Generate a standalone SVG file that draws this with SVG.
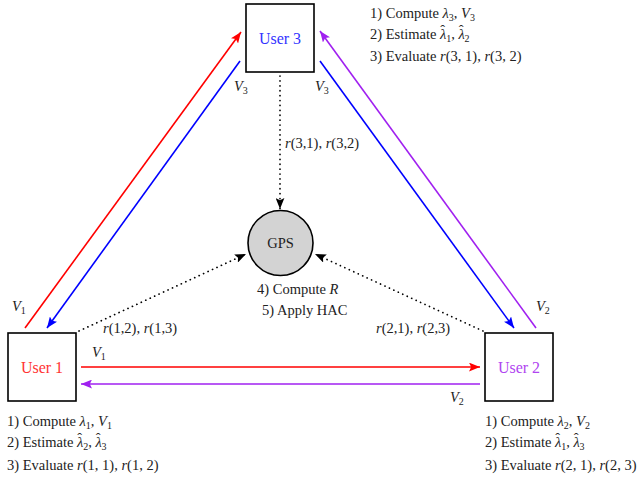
<svg xmlns="http://www.w3.org/2000/svg" width="642" height="481" viewBox="0 0 642 481">
<defs>
<style>
text{font-family:Liberation Serif,Times New Roman,DejaVu Serif,serif;fill:#222;font-size:14.5px}
.it{font-style:italic}
.sub{font-size:10px;font-style:normal}
.hat{font-style:normal}
.box{fill:#fff;stroke:#000;stroke-width:1.6}
.lbl{font-size:16px;text-anchor:middle}
.ln{fill:none;stroke-width:1.6}
.dot{fill:none;stroke:#000;stroke-width:1.7;stroke-dasharray:0.1 4.8;stroke-linecap:round}
</style>
<marker id="aR" viewBox="0 0 10 8" refX="10" refY="4" markerWidth="11" markerHeight="9" markerUnits="userSpaceOnUse" orient="auto"><path d="M0,0 L10,4 L0,8 L2,4 Z" fill="#ff0000"/></marker>
<marker id="aB" viewBox="0 0 10 8" refX="10" refY="4" markerWidth="11" markerHeight="9" markerUnits="userSpaceOnUse" orient="auto"><path d="M0,0 L10,4 L0,8 L2,4 Z" fill="#0000ff"/></marker>
<marker id="aP" viewBox="0 0 10 8" refX="10" refY="4" markerWidth="11" markerHeight="9" markerUnits="userSpaceOnUse" orient="auto"><path d="M0,0 L10,4 L0,8 L2,4 Z" fill="#a020f0"/></marker>
<marker id="aK" viewBox="0 0 10 8" refX="10" refY="4" markerWidth="11" markerHeight="9" markerUnits="userSpaceOnUse" orient="auto"><path d="M0,0 L10,4 L0,8 L2,4 Z" fill="#000"/></marker>
</defs>
<g id="connectors">
<line class="ln" x1="25" y1="328" x2="241" y2="32" stroke="#ff0000" marker-end="url(#aR)"/>
<line class="ln" x1="240" y1="61" x2="47" y2="328" stroke="#0000ff" marker-end="url(#aB)"/>
<line class="ln" x1="320" y1="61" x2="514" y2="328" stroke="#0000ff" marker-end="url(#aB)"/>
<line class="ln" x1="536" y1="328" x2="320" y2="31" stroke="#a020f0" marker-end="url(#aP)"/>
<line class="ln" x1="81" y1="367" x2="480" y2="367" stroke="#ff0000" marker-end="url(#aR)"/>
<line class="ln" x1="480" y1="384" x2="81" y2="384" stroke="#a020f0" marker-end="url(#aP)"/>
<line class="dot" x1="280" y1="76" x2="280" y2="209" marker-end="url(#aK)"/>
<line class="dot" x1="79" y1="331" x2="246" y2="254" marker-end="url(#aK)"/>
<line class="dot" x1="483" y1="331" x2="315" y2="254" marker-end="url(#aK)"/>
<text x="234" y="91"><tspan class="it">V</tspan><tspan class="sub" dy="3">3</tspan></text>
<text x="315" y="91"><tspan class="it">V</tspan><tspan class="sub" dy="3">3</tspan></text>
<text x="12" y="311"><tspan class="it">V</tspan><tspan class="sub" dy="3">1</tspan></text>
<text x="92" y="357"><tspan class="it">V</tspan><tspan class="sub" dy="3">1</tspan></text>
<text x="536" y="311"><tspan class="it">V</tspan><tspan class="sub" dy="3">2</tspan></text>
<text x="450" y="402"><tspan class="it">V</tspan><tspan class="sub" dy="3">2</tspan></text>
<text x="285" y="148"><tspan class="it">r</tspan>(3,1), <tspan class="it">r</tspan>(3,2)</text>
<text x="103" y="333"><tspan class="it">r</tspan>(1,2), <tspan class="it">r</tspan>(1,3)</text>
<text x="376" y="333"><tspan class="it">r</tspan>(2,1), <tspan class="it">r</tspan>(2,3)</text>
</g>
<g id="user3">
<rect class="box" x="246" y="4" width="68" height="68"/>
<text class="lbl" x="280" y="44" style="fill:#3333ff">User 3</text>
<text x="370" y="18">1) Compute <tspan class="it">λ</tspan><tspan class="sub" dy="3">3</tspan><tspan dy="-3">, </tspan><tspan class="it">V</tspan><tspan class="sub" dy="3">3</tspan></text>
<text x="370" y="39">2) Estimate <tspan class="it">λ</tspan><tspan class="hat" dx="-6" dy="-3.7">ˆ</tspan><tspan class="sub" dx="1" dy="6.7">1</tspan><tspan dy="-3">, </tspan><tspan class="it">λ</tspan><tspan class="hat" dx="-6" dy="-3.7">ˆ</tspan><tspan class="sub" dx="1" dy="6.7">2</tspan></text>
<text x="370" y="61">3) Evaluate <tspan class="it">r</tspan>(3, 1), <tspan class="it">r</tspan>(3, 2)</text>
</g>
<g id="user1">
<rect class="box" x="8" y="333" width="68" height="68"/>
<text class="lbl" x="42" y="373" style="fill:#ff3333">User 1</text>
<text x="7" y="426">1) Compute <tspan class="it">λ</tspan><tspan class="sub" dy="3">1</tspan><tspan dy="-3">, </tspan><tspan class="it">V</tspan><tspan class="sub" dy="3">1</tspan></text>
<text x="7" y="447">2) Estimate <tspan class="it">λ</tspan><tspan class="hat" dx="-6" dy="-3.7">ˆ</tspan><tspan class="sub" dx="1" dy="6.7">2</tspan><tspan dy="-3">, </tspan><tspan class="it">λ</tspan><tspan class="hat" dx="-6" dy="-3.7">ˆ</tspan><tspan class="sub" dx="1" dy="6.7">3</tspan></text>
<text x="7" y="470">3) Evaluate <tspan class="it">r</tspan>(1, 1), <tspan class="it">r</tspan>(1, 2)</text>
</g>
<g id="user2">
<rect class="box" x="485" y="333" width="68" height="68"/>
<text class="lbl" x="519" y="373" style="fill:#b044f0">User 2</text>
<text x="485" y="426">1) Compute <tspan class="it">λ</tspan><tspan class="sub" dy="3">2</tspan><tspan dy="-3">, </tspan><tspan class="it">V</tspan><tspan class="sub" dy="3">2</tspan></text>
<text x="485" y="447">2) Estimate <tspan class="it">λ</tspan><tspan class="hat" dx="-6" dy="-3.7">ˆ</tspan><tspan class="sub" dx="1" dy="6.7">1</tspan><tspan dy="-3">, </tspan><tspan class="it">λ</tspan><tspan class="hat" dx="-6" dy="-3.7">ˆ</tspan><tspan class="sub" dx="1" dy="6.7">3</tspan></text>
<text x="485" y="470">3) Evaluate <tspan class="it">r</tspan>(2, 1), <tspan class="it">r</tspan>(2, 3)</text>
</g>
<g id="gps">
<circle cx="280.5" cy="243" r="32.5" fill="#d3d3d3" stroke="#000" stroke-width="1.6"/>
<text x="280.5" y="248" text-anchor="middle" font-size="13.5">GPS</text>
<text x="257" y="294">4) Compute <tspan class="it">R</tspan></text>
<text x="262" y="315">5) Apply HAC</text>
</g>
</svg>
